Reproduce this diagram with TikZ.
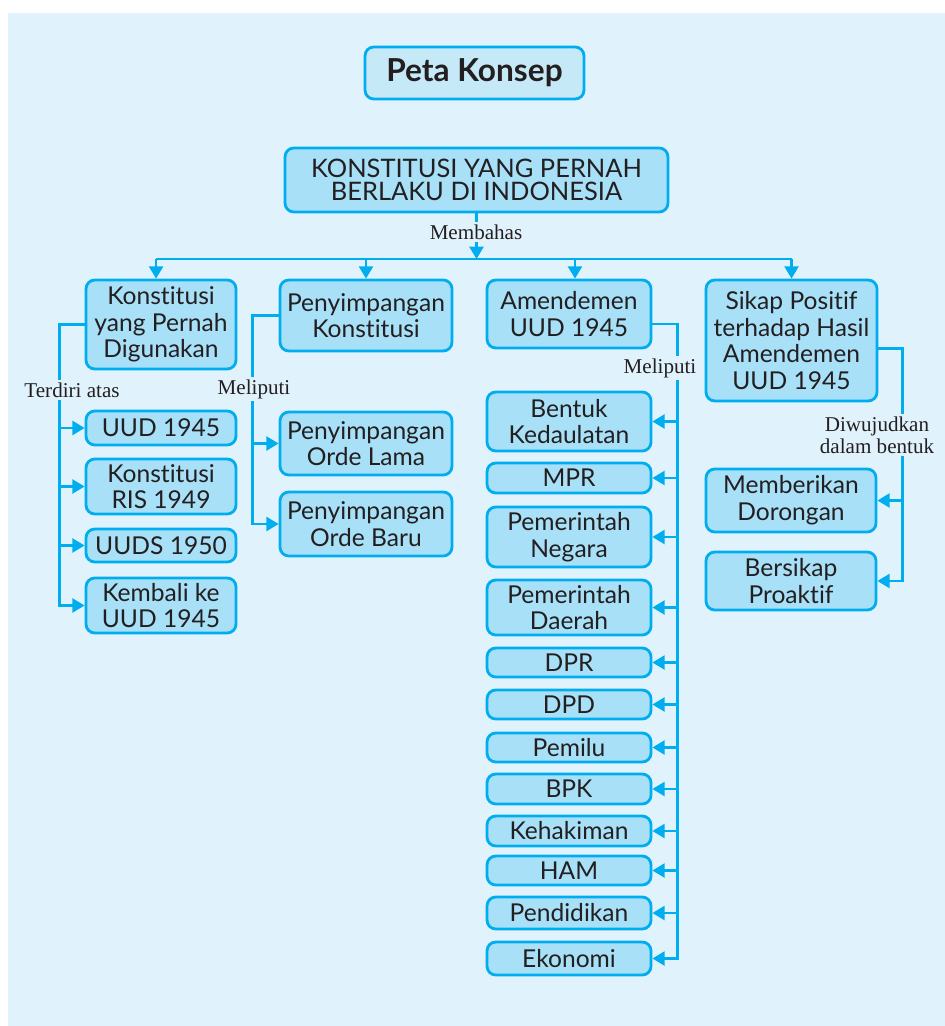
\documentclass[tikz,border=0pt]{standalone}
\usepackage{fontspec}
\setmainfont{Liberation Serif}
\newfontfamily\boxfont[RawFeature={-liga;-clig;-calt;-dlig}]{Lato}
\usepackage{xcolor}
\usetikzlibrary{arrows.meta}
\definecolor{bgblue}{HTML}{E0F2FC}
\definecolor{boxblue}{HTML}{A8E0F8}
\definecolor{titleblue}{HTML}{C6E9F8}
\definecolor{lineblue}{HTML}{00AEEF}
\definecolor{inkblack}{HTML}{231F20}

\begin{document}
\begin{tikzpicture}[x=0.02cm,y=-0.02cm,
	kotak/.style={draw=lineblue,fill=boxblue,line width=1.6pt,rounded corners=5pt,align=center,inner sep=0pt,text=inkblack,font=\boxfont\fontsize{14}{15.2}\selectfont},
	garis/.style={draw=lineblue,line width=1.4pt},
	panah/.style={garis,-{Triangle[length=7pt,width=8pt]}},
	ket/.style={fill=bgblue,inner sep=1.5pt,text=inkblack,align=center,font=\fontsize{12}{12.5}\selectfont}]
						% latar
						\fill[white] (0,0) rectangle (945,1026);
						\fill[bgblue] (8,13) rectangle (945,1026);
						% judul
						\node[kotak,fill=titleblue,minimum width=4.38cm,minimum height=1.04cm,font=\boxfont\bfseries\fontsize{18}{19}\selectfont] (peta) at (474.5,73) {Peta Konsep};
						\node[kotak,minimum width=7.66cm,minimum height=1.28cm,font=\boxfont\fontsize{14.5}{13.5}\selectfont] (top) at (476.5,180) {KONSTITUSI YANG PERNAH\\BERLAKU DI INDONESIA};
						% cabang utama
						\node[kotak,minimum width=3cm,minimum height=1.78cm] (kons) at (161,324.5) {Konstitusi\\yang Pernah\\Digunakan};
						\node[kotak,minimum width=3.44cm,minimum height=1.42cm] (peny) at (366,315.5) {Penyimpangan\\Konstitusi};
						\node[kotak,minimum width=3.28cm,minimum height=1.36cm] (amen) at (569,314) {Amendemen\\UUD 1945};
						\node[kotak,minimum width=3.42cm,minimum height=2.42cm] (sikap) at (791.5,340.5) {Sikap Positif\\terhadap Hasil\\Amendemen\\UUD 1945};
						% terdiri atas
						\node[kotak,minimum width=3cm,minimum height=0.68cm] (uud) at (161,428) {UUD 1945};
						\node[kotak,minimum width=3cm,minimum height=1.1cm] (ris) at (161,486.5) {Konstitusi\\RIS 1949};
						\node[kotak,minimum width=3cm,minimum height=0.66cm] (uuds) at (161,545.5) {UUDS 1950};
						\node[kotak,minimum width=3cm,minimum height=1.1cm] (kembali) at (161,605.5) {Kembali ke\\UUD 1945};
						% penyimpangan
						\node[kotak,minimum width=3.44cm,minimum height=1.26cm] (lama) at (366,443.5) {Penyimpangan\\Orde Lama};
						\node[kotak,minimum width=3.44cm,minimum height=1.28cm] (baru) at (366,524) {Penyimpangan\\Orde Baru};
						% amendemen
						\node[kotak,minimum width=3.28cm,minimum height=1.18cm] (bentuk) at (569,421.5) {Bentuk\\Kedaulatan};
						\node[kotak,minimum width=3.28cm,minimum height=0.6cm] (mpr) at (569,478) {MPR};
						\node[kotak,minimum width=3.28cm,minimum height=1.2cm] (pneg) at (569,537) {Pemerintah\\Negara};
						\node[kotak,minimum width=3.28cm,minimum height=1.1cm] (pdae) at (569,607.5) {Pemerintah\\Daerah};
						\node[kotak,minimum width=3.28cm,minimum height=0.58cm] (dpr) at (569,662.5) {DPR};
						\node[kotak,minimum width=3.28cm,minimum height=0.58cm] (dpd) at (569,704.5) {DPD};
						\node[kotak,minimum width=3.28cm,minimum height=0.58cm] (pemilu) at (569,747.5) {Pemilu};
						\node[kotak,minimum width=3.28cm,minimum height=0.6cm] (bpk) at (569,789) {BPK};
						\node[kotak,minimum width=3.28cm,minimum height=0.6cm] (hakim) at (569,831) {Kehakiman};
						\node[kotak,minimum width=3.28cm,minimum height=0.58cm] (ham) at (569,870.5) {HAM};
						\node[kotak,minimum width=3.28cm,minimum height=0.64cm] (didik) at (569,913) {Pendidikan};
						\node[kotak,minimum width=3.28cm,minimum height=0.66cm] (eko) at (569,958.5) {Ekonomi};
						% sikap positif
						\node[kotak,minimum width=3.4cm,minimum height=1.26cm] (dorong) at (791,500.5) {Memberikan\\Dorongan};
						\node[kotak,minimum width=3.4cm,minimum height=1.16cm] (proaktif) at (791,581) {Bersikap\\Proaktif};
						% membahas
						\coordinate (bus) at (475,259);
						\draw[panah] (top.south) -- (top.south |- bus);
						\draw[garis] ([xshift=-2.8pt]kons.north |- bus) -- (sikap.north |- bus);
						\draw[panah] ([xshift=-2.8pt]kons.north |- bus) -- ([xshift=-2.8pt]kons.north);
						\draw[panah] (peny.north |- bus) -- (peny.north);
						\draw[panah] ([xshift=3.4pt]amen.north |- bus) -- ([xshift=3.4pt]amen.north);
						\draw[panah] (sikap.north |- bus) -- (sikap.north);
						% cabang kiri
						\draw[panah] (kons.west) -- ++(-25,0) coordinate (kt) |- (kembali.west);
						\foreach \n in {uud,ris,uuds} \draw[panah] (kt |- \n.west) -- (\n.west);
						\draw[panah] (peny.west) -- ++(-26,0) coordinate (pt) |- (baru.west);
						\draw[panah] (pt |- lama.west) -- (lama.west);
						% cabang kanan
						\draw[panah] ([yshift=-5.7pt]amen.east) -- ++(25,0) coordinate (at) |- (eko.east);
						\foreach \n in {bentuk,mpr,pneg,pdae,dpr,dpd,pemilu,bpk,hakim,ham,didik} \draw[panah] (at |- \n.east) -- (\n.east);
						\draw[panah] ([yshift=-4.5pt]sikap.east) -- ++(24,0) coordinate (st) |- (proaktif.east);
						\draw[panah] (st |- dorong.east) -- (dorong.east);
						% keterangan
						\node[ket] (lbahas) at (476,232) {Membahas};
						\node[ket] (lterdiri) at (72,390) {Terdiri atas};
						\node[ket] (lmeliputi) at (254,389) {Meliputi};
						\node[ket] (lmeliputi2) at (660,368) {Meliputi};
						\node[ket] (lwujud) at (877,435) {Diwujudkan\\dalam bentuk};
					\end{tikzpicture}
\end{document}
